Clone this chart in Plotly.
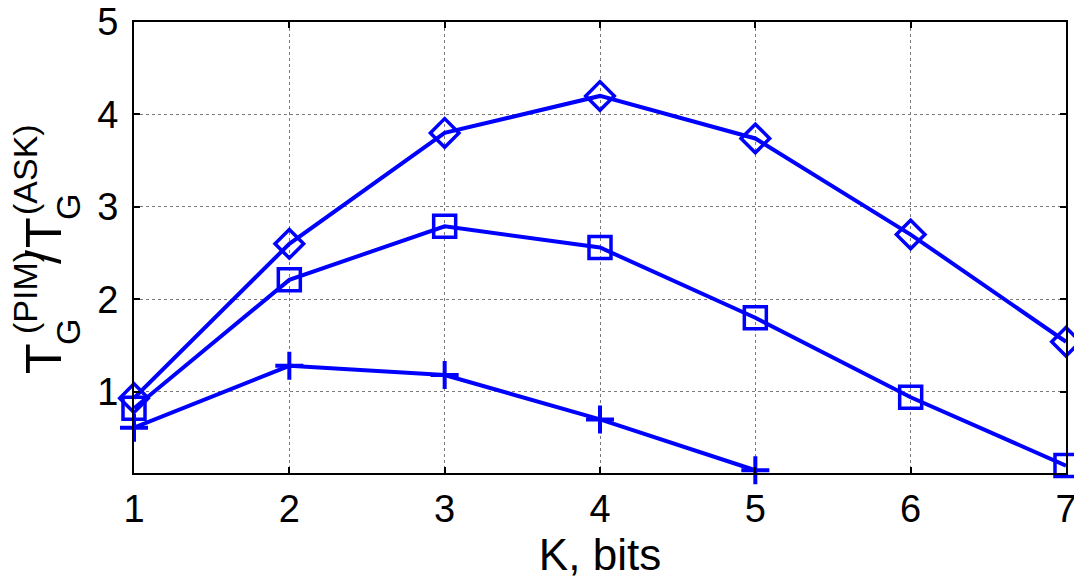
import plotly.graph_objects as go

K = [1, 2, 3, 4, 5, 6, 7]
diamond_vals = [0.93, 2.60, 3.80, 4.20, 3.74, 2.70, 1.54]
square_vals = [0.82, 2.21, 2.79, 2.56, 1.80, 0.94, 0.20]
plus_K = [1, 2, 3, 4, 5]
plus_vals = [0.61, 1.28, 1.18, 0.70, 0.15]

x_ticks = [1, 2, 3, 4, 5, 6, 7]
y_ticks = [1, 2, 3, 4, 5]

blue = "#0000FF"
font = "Liberation Sans, Arial, sans-serif"

# plot area in pixels
L, R, T, B = 134, 1066, 22, 473
W_FIG, H_FIG = 1074, 581

fig = go.Figure()
fig.add_trace(go.Scatter(x=K, y=diamond_vals, mode="lines+markers",
                         line=dict(color=blue, width=4),
                         marker=dict(symbol="diamond-open", size=22, color=blue, line=dict(width=3.5, color=blue)),
                         cliponaxis=False))
fig.add_trace(go.Scatter(x=K, y=square_vals, mode="lines+markers",
                         line=dict(color=blue, width=4),
                         marker=dict(symbol="square-open", size=22, color=blue, line=dict(width=3.5, color=blue)),
                         cliponaxis=False))
fig.add_trace(go.Scatter(x=plus_K, y=plus_vals, mode="lines+markers",
                         line=dict(color=blue, width=4),
                         marker=dict(symbol="cross-thin-open", size=20, color=blue, line=dict(width=4, color=blue)),
                         cliponaxis=False))

axis_common = dict(showline=True, linecolor="black", linewidth=2, mirror="all",
                   ticks="inside", ticklen=6, tickcolor="black", tickwidth=2,
                   showgrid=True, gridcolor="#7a7a7a", griddash="dot", gridwidth=1,
                   zeroline=False, automargin=False, ticklabeloverflow="allow",
                   tickfont=dict(family=font, size=38, color="black"))

fig.update_xaxes(range=[1, 7], tickvals=x_ticks, ticktext=[str(v) for v in x_ticks],
                 ticklabelstandoff=1,
                 title=dict(text="K, bits", font=dict(family=font, size=44, color="black"), standoff=5),
                 **axis_common)
fig.update_yaxes(range=[0.12, 5], tickvals=y_ticks, ticktext=[str(v) for v in y_ticks],
                 ticklabelstandoff=6,
                 **axis_common)

# stacked y-axis label pieces: (text, font size, centre x px, centre y px)
ylabel_parts = [
    ("T", 50, 44, 359),
    ("(PIM)", 34, 25, 293),
    ("G", 34, 68, 332),
    ("/", 50, 44, 257),
    ("T", 50, 44, 233),
    ("G", 34, 68, 207),
    ("(ASK)", 34, 25, 170),
]
for txt, fs, cx, cy in ylabel_parts:
    fig.add_annotation(text=txt, xref="paper", yref="paper", x=0, y=0,
                       xshift=cx - L, yshift=B - cy, xanchor="center", yanchor="middle",
                       textangle=-90, showarrow=False, borderpad=0,
                       font=dict(family=font, size=fs, color="black"))

fig.update_layout(width=W_FIG, height=H_FIG, showlegend=False,
                  plot_bgcolor="white", paper_bgcolor="white",
                  margin=dict(l=L, r=W_FIG - R, t=T, b=H_FIG - B))

fig.write_html("out.html", config={"displayModeBar": False},
               post_script="document.body.style.margin='0px';document.body.style.overflow='hidden';")
